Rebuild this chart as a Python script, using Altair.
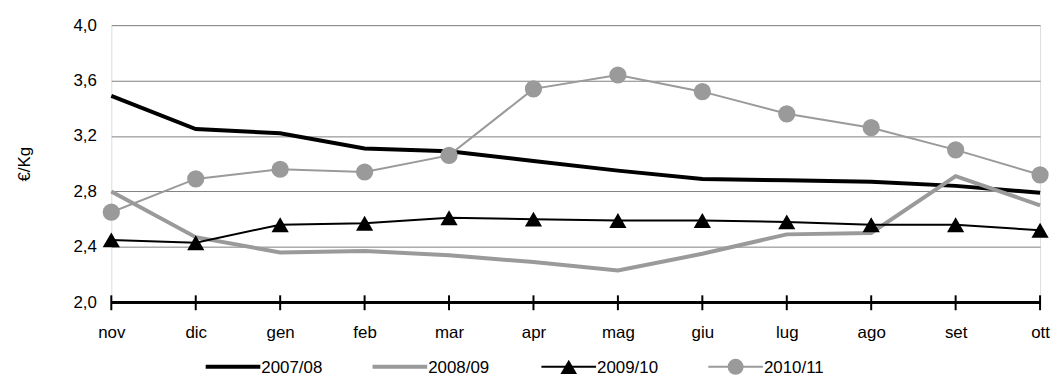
import altair as alt
import pandas as pd

months = ["nov", "dic", "gen", "feb", "mar", "apr", "mag", "giu", "lug", "ago", "set", "ott"]
s0708 = [3.49, 3.25, 3.22, 3.11, 3.09, 3.02, 2.95, 2.89, 2.88, 2.87, 2.84, 2.79]
s0809 = [2.80, 2.47, 2.36, 2.37, 2.34, 2.29, 2.23, 2.35, 2.49, 2.50, 2.91, 2.70]
s0910 = [2.45, 2.43, 2.56, 2.57, 2.61, 2.60, 2.59, 2.59, 2.58, 2.56, 2.56, 2.52]
s1011 = [2.65, 2.89, 2.96, 2.94, 3.06, 3.54, 3.64, 3.52, 3.36, 3.26, 3.10, 2.92]
series_names = ["2007/08", "2008/09", "2009/10", "2010/11"]
y_ticks = [2.0, 2.4, 2.8, 3.2, 3.6, 4.0]

FONT = "Liberation Sans, Arial, sans-serif"
FS = 17
GRAY = "#9a9a9a"
W, H = 935, 279

rows = []
for name, vals in zip(series_names, [s0708, s0809, s0910, s1011]):
    for m, v in zip(months, vals):
        rows.append({"month": m, "value": v, "series": name})
df = pd.DataFrame(rows)

xenc = alt.X("month:N", sort=months, scale=alt.Scale(type="point", padding=0),
             axis=alt.Axis(title=None, domain=False, ticks=False, grid=False,
                           labelFont=FONT, labelFontSize=FS, labelColor="#000",
                           labelPadding=22, labelAngle=0))
yscale = alt.Scale(domain=[2.0, 4.0], nice=False, zero=False)
yenc = alt.Y("value:Q", scale=yscale,
             axis=alt.Axis(title="€/Kg", values=y_ticks, format=".1f",
                           labelExpr="replace(datum.label, '.', ',')",
                           domain=False, ticks=False, grid=True,
                           gridColor="#808080", gridWidth=1,
                           labelFont=FONT, labelFontSize=FS, labelColor="#000",
                           labelPadding=15, titleFont=FONT, titleFontSize=FS,
                           titleFontWeight="normal", titleColor="#000",
                           titlePadding=40))

base = alt.Chart(df)

def sel(name):
    return base.transform_filter(alt.datum.series == name)

l1 = sel("2007/08").mark_line(color="#000000", strokeWidth=4).encode(x=xenc, y=yenc)
l2 = sel("2008/09").mark_line(color=GRAY, strokeWidth=4).encode(x=xenc, y=yenc)
l3 = sel("2009/10").mark_line(color="#000000", strokeWidth=2).encode(x=xenc, y=yenc)
p3 = sel("2009/10").mark_point(shape="triangle-up", filled=True, size=300, color="#000000", opacity=1).encode(x=xenc, y=yenc)
l4 = sel("2010/11").mark_line(color=GRAY, strokeWidth=2).encode(x=xenc, y=yenc)
p4 = sel("2010/11").mark_point(shape="circle", filled=True, size=300, color=GRAY, opacity=1).encode(x=xenc, y=yenc)

# x axis line and cross ticks
axis_df = pd.DataFrame({"month": months})
axis_line = alt.Chart(axis_df).mark_rule(color="#000", strokeWidth=2).encode(
    x=alt.value(0), x2=alt.value(W), y=alt.value(H))
axis_ticks = alt.Chart(axis_df).mark_rule(color="#000", strokeWidth=2).encode(
    x=xenc, y=alt.value(H - 7), y2=alt.value(H + 8))

# manual legend
leg_x = [95, 263, 433, 601]
leg_colors = ["#000000", GRAY, "#000000", GRAY]
leg_widths = [4, 4, 2, 2]
leg_shapes = [None, None, "triangle-up", "circle"]
leg_y = H + 65
leg_layers = []
for name, x0, c, w, shp in zip(series_names, leg_x, leg_colors, leg_widths, leg_shapes):
    d = pd.DataFrame({"series": [name]})
    leg_layers.append(alt.Chart(d).mark_rule(color=c, strokeWidth=w).encode(
        x=alt.value(x0), x2=alt.value(x0 + 55), y=alt.value(leg_y)))
    if shp:
        leg_layers.append(alt.Chart(d).mark_point(shape=shp, filled=True, size=260 if shp == "circle" else 280,
                                                  color=c, opacity=1).encode(
            x=alt.value(x0 + 27.5), y=alt.value(leg_y)))
    leg_layers.append(alt.Chart(d).mark_text(align="left", baseline="middle", font=FONT,
                                             fontSize=FS, color="#000").encode(
        x=alt.value(x0 + 56), y=alt.value(leg_y + 1), text="series:N"))

chart = alt.layer(l1, l2, l3, p3, l4, p4, axis_line, axis_ticks, *leg_layers).properties(
    width=W, height=H,
    autosize=alt.AutoSizeParams(type="none"),
    padding={"left": 104, "top": 16, "right": 10, "bottom": 78},
).configure_view(stroke=None).configure(background="white")

chart.save("out.html", embed_options={"renderer": "svg", "actions": False})
